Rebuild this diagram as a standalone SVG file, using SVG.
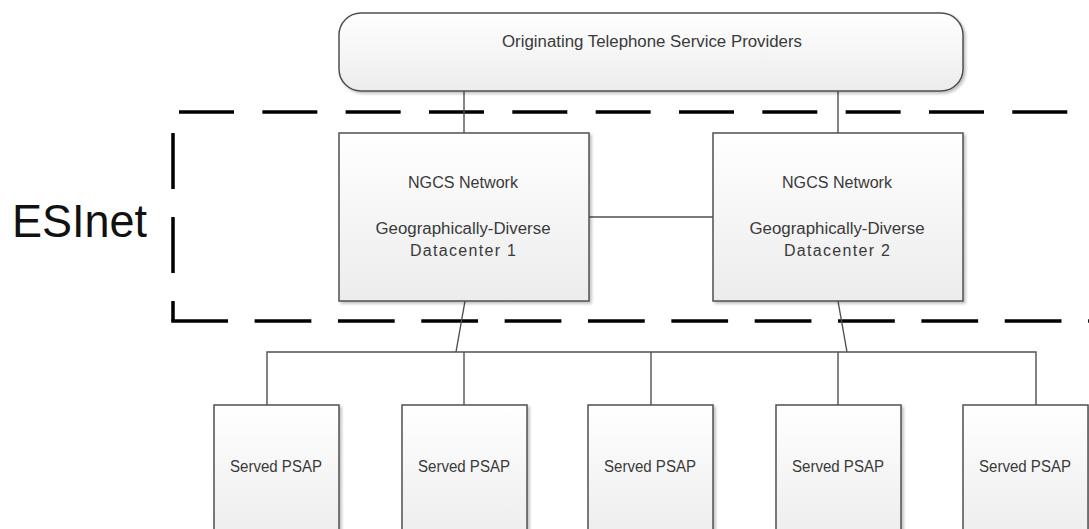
<svg xmlns="http://www.w3.org/2000/svg" width="1089" height="529" viewBox="0 0 1089 529">
<defs>
<linearGradient id="g" x1="0" y1="0" x2="0" y2="1">
<stop offset="0" stop-color="#ffffff"/>
<stop offset="1" stop-color="#ececec"/>
</linearGradient>
<filter id="sh" x="-5%" y="-5%" width="115%" height="115%">
<feGaussianBlur in="SourceAlpha" stdDeviation="1.5"/>
<feOffset dx="2" dy="2" result="b"/>
<feComponentTransfer><feFuncA type="linear" slope="0.25"/></feComponentTransfer>
<feMerge><feMergeNode/><feMergeNode in="SourceGraphic"/></feMerge>
</filter>
</defs>
<style>
.box{fill:url(#g);stroke:#505050;stroke-width:1.5;filter:url(#sh)}
.t{font-family:"Liberation Sans",Arial,sans-serif;font-size:16px;fill:#3a3a3a;text-anchor:middle}
.c{fill:none;stroke:#505050;stroke-width:1.4}
.d{fill:none;stroke:#000;stroke-width:3.5}
</style>
<g id="esinet">
<line class="d" x1="179" y1="112" x2="1089" y2="112" stroke-dasharray="55 28.33"/>
<line class="d" x1="173" y1="133" x2="173" y2="321" stroke-dasharray="56 28"/>
<line class="d" x1="171.25" y1="321" x2="1089" y2="321" stroke-dasharray="56.75 26.6"/>
<text x="12" y="237" textLength="135" lengthAdjust="spacingAndGlyphs" style="font-family:'Liberation Sans',Arial,sans-serif;font-size:46px;fill:#111">ESInet</text>
</g>
<g id="connectors">
<line class="c" x1="464" y1="90" x2="464" y2="133"/>
<line class="c" x1="838" y1="90" x2="838" y2="133"/>
<line class="c" x1="589" y1="217" x2="713" y2="217"/>
<line class="c" x1="465" y1="301" x2="456" y2="352"/>
<line class="c" x1="838" y1="301" x2="847" y2="352"/>
<polyline class="c" points="267,405 267,352 1036,352 1036,405"/>
<line class="c" x1="464" y1="352" x2="464" y2="405"/>
<line class="c" x1="651" y1="352" x2="651" y2="405"/>
<line class="c" x1="838" y1="352" x2="838" y2="405"/>
</g>
<g id="otsp">
<rect class="box" x="339" y="13" width="624" height="78" rx="22"/>
<text class="t" x="652" y="47" textLength="300" lengthAdjust="spacingAndGlyphs">Originating Telephone Service Providers</text>
</g>
<g id="dc1">
<rect class="box" x="339" y="133" width="250" height="168"/>
<text class="t" x="463" y="188" textLength="110" lengthAdjust="spacingAndGlyphs">NGCS Network</text>
<text class="t" x="463" y="234" textLength="175" lengthAdjust="spacingAndGlyphs">Geographically-Diverse</text>
<text class="t" x="463" y="256" textLength="106" lengthAdjust="spacing">Datacenter 1</text>
</g>
<g id="dc2">
<rect class="box" x="713" y="133" width="250" height="168"/>
<text class="t" x="837" y="188" textLength="110" lengthAdjust="spacingAndGlyphs">NGCS Network</text>
<text class="t" x="837" y="234" textLength="175" lengthAdjust="spacingAndGlyphs">Geographically-Diverse</text>
<text class="t" x="837" y="256" textLength="106" lengthAdjust="spacing">Datacenter 2</text>
</g>
<g id="psap1">
<rect class="box" x="214" y="405" width="125" height="140"/>
<text class="t" x="276" y="472" textLength="92" lengthAdjust="spacingAndGlyphs">Served PSAP</text>
</g>
<g id="psap2">
<rect class="box" x="402" y="405" width="125" height="140"/>
<text class="t" x="464" y="472" textLength="92" lengthAdjust="spacingAndGlyphs">Served PSAP</text>
</g>
<g id="psap3">
<rect class="box" x="588" y="405" width="125" height="140"/>
<text class="t" x="650" y="472" textLength="92" lengthAdjust="spacingAndGlyphs">Served PSAP</text>
</g>
<g id="psap4">
<rect class="box" x="776" y="405" width="125" height="140"/>
<text class="t" x="838" y="472" textLength="92" lengthAdjust="spacingAndGlyphs">Served PSAP</text>
</g>
<g id="psap5">
<rect class="box" x="963" y="405" width="125" height="140"/>
<text class="t" x="1025" y="472" textLength="92" lengthAdjust="spacingAndGlyphs">Served PSAP</text>
</g>
</svg>
